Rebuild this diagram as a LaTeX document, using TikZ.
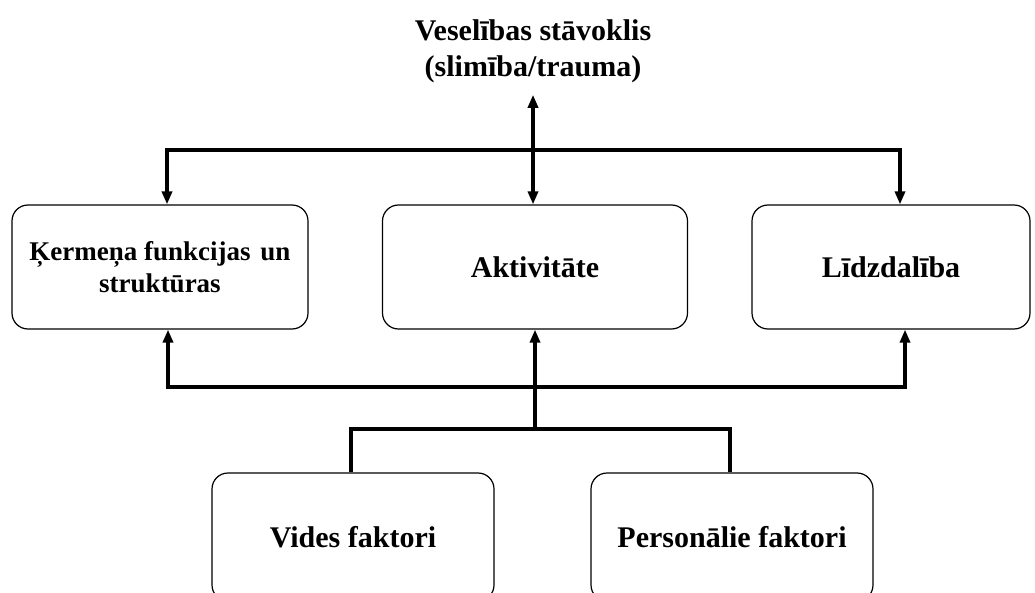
\documentclass[tikz,border=0pt]{standalone}
\usepackage{fontspec}
\setmainfont{Liberation Serif}
\usetikzlibrary{arrows.meta, calc, positioning}

\begin{document}
\begin{tikzpicture}[x=1pt, y=-1pt, >={Triangle[length=13pt, width=10pt]},
  font=\fontsize{30}{36}\selectfont\bfseries,
  box/.style={draw, line width=1.2pt, rounded corners=16pt, align=center, minimum height=124pt},
  conn/.style={line width=3.5pt}]
\clip (0,0) rectangle (1035,593);
\node[align=center, inner sep=0pt] (health) at (533,51) {Veselības stāvoklis\\(slimība/trauma)};
\node[box, minimum width=296pt, font=\fontsize{27}{32}\selectfont\bfseries] (body) at (160,267) {Ķermeņa funkcijas\hspace{3pt} un\\struktūras};
\node[box, minimum width=305pt] (act) at (535,267) {Aktivitāte};
\node[box, minimum width=278pt] (part) at (891,267) {Līdzdalība};
\node[box, minimum width=282pt, minimum height=128pt] (env) at (353,537) {Vides faktori};
\node[box, minimum width=282pt, minimum height=128pt] (pers) at (732,537) {Personālie faktori};
\coordinate (topbus) at (533,150);
\coordinate (lowbus) at (535,387);
\coordinate (factors) at (535,429);
% upper part
\draw[conn, <->] ([yshift=-12pt]health.south) -- ([xshift=-2pt]act.north);
\draw[conn, ->] (topbus) -| ([xshift=7pt]body.north);
\draw[conn, ->] (topbus) -| ([xshift=9pt]part.north);
% lower part
\draw[conn, ->] (lowbus) -| ([xshift=8pt]body.south);
\draw[conn, ->] (lowbus) -| ([xshift=14pt]part.south);
\draw[conn, ->] (factors) -- (act.south);
\draw[conn] ([xshift=-2pt]env.north) |- (factors) -| ([xshift=-2pt]pers.north);
\end{tikzpicture}
\end{document}
